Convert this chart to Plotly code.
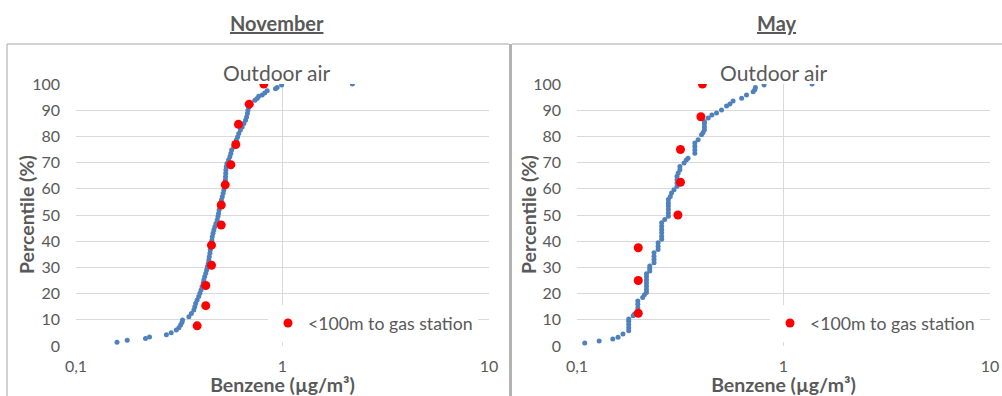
import plotly.graph_objects as go

# ---------------- data ----------------
nov_blue_x = [0.158, 0.177, 0.217, 0.227, 0.274, 0.289, 0.306, 0.315, 0.321, 0.326,
              0.328, 0.352, 0.362, 0.372, 0.376, 0.380, 0.386, 0.393, 0.398, 0.403,
              0.408, 0.413, 0.416, 0.420, 0.425, 0.429, 0.433, 0.437, 0.440, 0.442,
              0.445, 0.447, 0.449, 0.452, 0.455, 0.457, 0.461, 0.465, 0.470, 0.476,
              0.483, 0.487, 0.490, 0.493, 0.497, 0.501, 0.506, 0.511, 0.516, 0.520,
              0.524, 0.527, 0.529, 0.530, 0.531, 0.532, 0.534, 0.538, 0.548, 0.556,
              0.562, 0.567, 0.580, 0.588, 0.598, 0.606, 0.614, 0.625, 0.638, 0.650,
              0.662, 0.670, 0.676, 0.680, 0.688, 0.700, 0.735, 0.754, 0.767, 0.797,
              0.820, 0.843, 0.925, 0.942, 0.990, 2.18]
nov_blue_p = [1.4, 2.2, 2.9, 3.4, 4.3, 5.1, 6.1, 7.0, 8.0, 9.0,
              9.9, 11.2, 12.4, 13.7, 15.0, 16.3, 17.6, 18.9, 20.1, 21.4,
              22.7, 24.0, 25.2, 26.5, 27.8, 29.0, 30.3, 31.6, 32.8, 34.1,
              35.4, 36.6, 37.9, 39.2, 40.4, 41.7, 43.0, 44.3, 45.5, 46.8,
              48.1, 49.4, 50.6, 51.9, 53.2, 54.5, 55.7, 57.0, 58.3, 59.5,
              60.8, 62.1, 63.4, 64.6, 65.9, 67.2, 68.4, 69.7, 71.0, 72.2,
              73.5, 74.8, 76.0, 77.3, 78.6, 79.8, 81.1, 82.4, 83.6, 84.9,
              86.2, 87.4, 88.7, 90.0, 91.2, 92.5, 93.8, 94.5, 95.3, 95.8,
              96.6, 97.4, 98.2, 98.7, 99.6, 100.0]

nov_red_x = [0.812, 0.690, 0.612, 0.594, 0.562, 0.528, 0.505, 0.505, 0.453, 0.453, 0.425, 0.425, 0.386]
nov_red_p = [100.0, 92.3, 84.6, 76.9, 69.2, 61.5, 53.8, 46.2, 38.5, 30.8, 23.1, 15.4, 7.7]

may_blue_x = [0.109, 0.128, 0.149, 0.158, 0.167, 0.178, 0.178, 0.178, 0.178, 0.178,
              0.187, 0.190, 0.197, 0.197, 0.197, 0.197, 0.208, 0.212, 0.217, 0.217,
              0.217, 0.217, 0.217, 0.217, 0.217, 0.225, 0.225, 0.225, 0.236, 0.236,
              0.236, 0.236, 0.247, 0.247, 0.247, 0.257, 0.257, 0.257, 0.257, 0.257,
              0.257, 0.266, 0.277, 0.277, 0.277, 0.277, 0.277, 0.277, 0.283, 0.287,
              0.295, 0.305, 0.305, 0.305, 0.305, 0.309, 0.315, 0.315, 0.330, 0.338,
              0.345, 0.372, 0.372, 0.372, 0.372, 0.386, 0.401, 0.408, 0.414, 0.414,
              0.414, 0.414, 0.432, 0.450, 0.474, 0.501, 0.530, 0.550, 0.570, 0.627,
              0.662, 0.713, 0.726, 0.731, 0.805, 1.375]
may_blue_p = [1.1, 1.9, 2.7, 3.3, 4.6, 5.8, 7.0, 8.2, 9.4, 10.3,
              11.5, 12.2, 13.4, 14.6, 15.9, 17.2, 18.5, 19.6, 20.4, 21.6,
              22.8, 24.0, 25.2, 26.4, 27.6, 28.6, 29.6, 30.5, 31.8, 33.0,
              34.3, 35.6, 36.8, 38.1, 39.4, 40.7, 41.9, 43.2, 44.5, 45.7,
              47.0, 48.3, 49.5, 50.8, 52.1, 53.4, 54.6, 55.9, 57.1, 58.4,
              59.6, 61.0, 62.2, 63.5, 64.8, 66.0, 67.3, 68.5, 69.8, 71.0,
              71.7, 73.6, 74.8, 76.1, 77.5, 78.7, 80.6, 81.5, 82.5, 83.7,
              84.9, 85.7, 87.0, 88.2, 88.9, 90.1, 91.6, 92.4, 93.5, 94.6,
              95.8, 97.0, 97.8, 98.7, 99.6, 100.0]

may_red_x = [0.405, 0.398, 0.317, 0.317, 0.308, 0.198, 0.198, 0.198]
may_red_p = [100.0, 87.5, 75.0, 62.5, 50.0, 37.5, 25.0, 12.5]

panel_titles = ["November", "May"]
chart_title = "Outdoor air"
red_label = "<100m to gas station"
x_title = "Benzene (µg/m³)"
y_title = "Percentile (%)"
x_tickvals = [0.1, 1, 10]
x_ticktext = ["0,1", "1", "10"]

# ---------------- styling ----------------
W, H = 1002, 396
BLUE = "#4F81BD"
RED = "#FF0000"
TXT = "#595959"
GRID = "#D9D9D9"
FONT = "Lato"

def px(x):
    return x / W

def py(y):
    return 1 - y / H

fig = go.Figure()

fig.add_trace(go.Scatter(x=nov_blue_x, y=nov_blue_p, mode="markers", xaxis="x", yaxis="y",
                         marker=dict(color=BLUE, size=5, line=dict(width=0)),
                         name="Outdoor air", showlegend=False))
fig.add_trace(go.Scatter(x=nov_red_x, y=nov_red_p, mode="markers", xaxis="x", yaxis="y",
                         marker=dict(color=RED, size=9, line=dict(width=0)),
                         name=red_label, legend="legend"))
fig.add_trace(go.Scatter(x=may_blue_x, y=may_blue_p, mode="markers", xaxis="x2", yaxis="y2",
                         marker=dict(color=BLUE, size=5, line=dict(width=0)),
                         name="Outdoor air", showlegend=False))
fig.add_trace(go.Scatter(x=may_red_x, y=may_red_p, mode="markers", xaxis="x2", yaxis="y2",
                         marker=dict(color=RED, size=9, line=dict(width=0)),
                         name=red_label, legend="legend2"))

xcommon = dict(type="log", range=[-1, 1], tickvals=x_tickvals, ticktext=x_ticktext,
               showgrid=True, gridcolor=GRID, gridwidth=1, zeroline=False, showline=False,
               ticks="", ticklabelstandoff=9, automargin=False,
               tickfont=dict(family=FONT, size=16, color=TXT),
               title=dict(text=x_title, font=dict(family=FONT, size=19.5, color=TXT, weight="bold"),
                          standoff=0))
ycommon = dict(range=[0, 100], dtick=10, tick0=0, showgrid=True, gridcolor=GRID, gridwidth=1,
               zeroline=False, showline=False, ticks="", ticklabelstandoff=15, automargin=False,
               tickfont=dict(family=FONT, size=16, color=TXT))

ydom = [py(346), py(84)]
fig.update_layout(
    width=W, height=H,
    margin=dict(l=0, r=0, t=0, b=0, autoexpand=False),
    paper_bgcolor="white", plot_bgcolor="white",
    font=dict(family=FONT, color=TXT),
    xaxis=dict(domain=[px(76), px(489)], anchor="y", **xcommon),
    yaxis=dict(domain=ydom, anchor="x", **ycommon),
    xaxis2=dict(domain=[px(577), px(990)], anchor="y2", **xcommon),
    yaxis2=dict(domain=ydom, anchor="x2", **ycommon),
    legend=dict(x=px(268), y=py(305), xanchor="left", yanchor="top", bgcolor="white",
                borderwidth=0, font=dict(family=FONT, size=17.7, color=TXT), itemwidth=30),
    legend2=dict(x=px(770), y=py(305), xanchor="left", yanchor="top", bgcolor="white",
                 borderwidth=0, font=dict(family=FONT, size=17.7, color=TXT), itemwidth=30),
    showlegend=True,
)

annotations = []
for title, cx in zip(panel_titles, [277, 777]):
    annotations.append(dict(text=title, x=px(cx), y=py(23), xref="paper", yref="paper",
                            showarrow=False, xanchor="center", yanchor="middle",
                            font=dict(family=FONT, size=20, color=TXT, weight="bold",
                                      lineposition="under")))
for cx in [277, 774]:
    annotations.append(dict(text=chart_title, x=px(cx), y=py(72), xref="paper", yref="paper",
                            showarrow=False, xanchor="center", yanchor="middle",
                            font=dict(family=FONT, size=21, color=TXT)))
# y-axis titles
for cx in [26, 528]:
    annotations.append(dict(text=y_title, x=px(cx), y=py(215), xref="paper", yref="paper",
                            showarrow=False, xanchor="center", yanchor="middle", textangle=-90,
                            font=dict(family=FONT, size=19.5, color=TXT, weight="bold")))
fig.update_layout(annotations=annotations)

shapes = [
    dict(type="line", xref="paper", yref="paper", x0=px(7), x1=px(7), y0=py(44), y1=0,
         line=dict(color="#A6A6A6", width=1)),
    dict(type="line", xref="paper", yref="paper", x0=px(7), x1=px(509), y0=py(44), y1=py(44),
         line=dict(color="#A6A6A6", width=1)),
    dict(type="line", xref="paper", yref="paper", x0=px(510.5), x1=px(510.5), y0=py(44), y1=0,
         line=dict(color="#B3B3B3", width=3)),
    dict(type="line", xref="paper", yref="paper", x0=px(512), x1=1, y0=py(44), y1=py(44),
         line=dict(color="#A6A6A6", width=1)),
]
fig.update_layout(shapes=shapes)

fig.write_html("out.html", config={"displayModeBar": False},
               post_script="document.body.style.margin='0';document.body.style.overflow='hidden';")
